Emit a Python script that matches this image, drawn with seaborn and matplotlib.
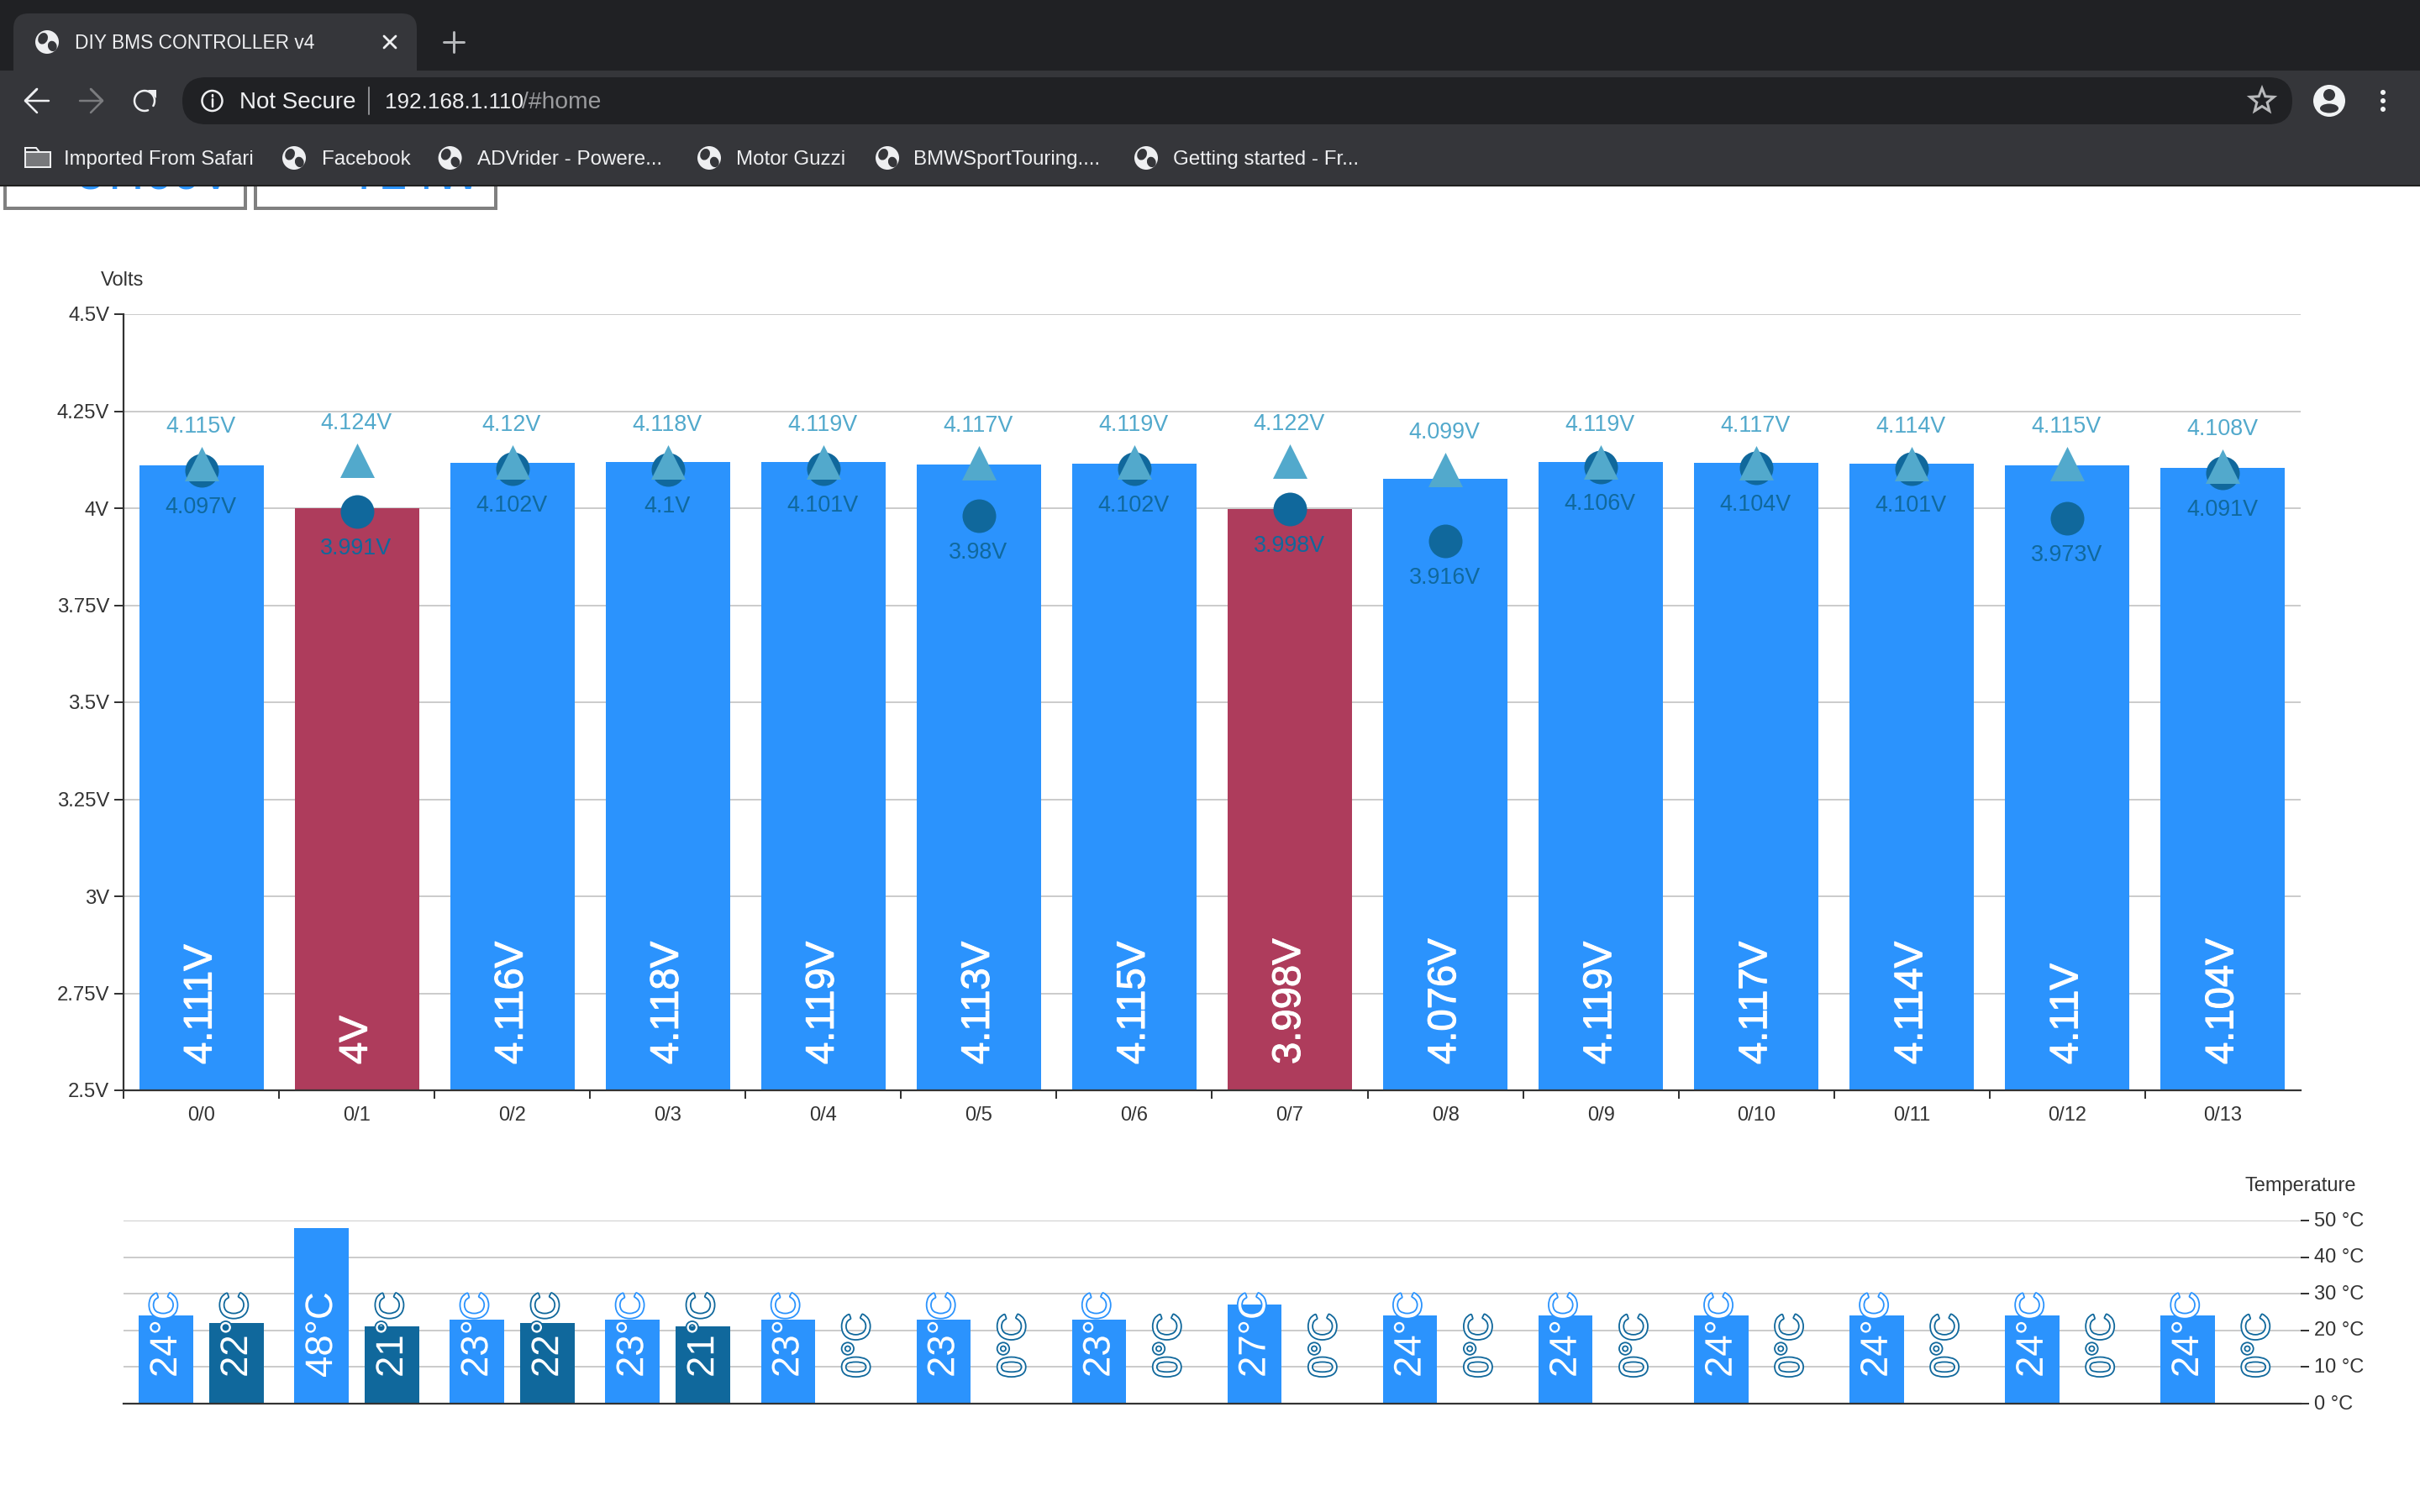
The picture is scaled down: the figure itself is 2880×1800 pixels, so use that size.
import numpy as np
import pandas as pd
import matplotlib
matplotlib.use("Agg")
import matplotlib.pyplot as plt
import matplotlib.patheffects as pe
from matplotlib.patches import Rectangle, FancyBboxPatch, Circle, Ellipse, Polygon
from matplotlib.transforms import ScaledTranslation
import seaborn as sns

# Valores
cells = ["0/0", "0/1", "0/2", "0/3", "0/4", "0/5", "0/6", "0/7", "0/8", "0/9", "0/10", "0/11", "0/12", "0/13"]
voltage = [4.111, 4, 4.116, 4.118, 4.119, 4.113, 4.115, 3.998, 4.076, 4.119, 4.117, 4.114, 4.11, 4.104]
v_max = [4.115, 4.124, 4.12, 4.118, 4.119, 4.117, 4.119, 4.122, 4.099, 4.119, 4.117, 4.114, 4.115, 4.108]
v_min = [4.097, 3.991, 4.102, 4.1, 4.101, 3.98, 4.102, 3.998, 3.916, 4.106, 4.104, 4.101, 3.973, 4.091]
balancing = [False, True, False, False, False, False, False, True, False, False, False, False, False, False]
temp_ext = [24, 48, 23, 23, 23, 23, 23, 27, 24, 24, 24, 24, 24, 24]
temp_int = [22, 21, 22, 21, 0, 0, 0, 0, 0, 0, 0, 0, 0, 0]
volt_ticks = [2.5, 2.75, 3, 3.25, 3.5, 3.75, 4, 4.25, 4.5]
temp_ticks = [0, 10, 20, 30, 40, 50]

BLUE = "#2b93fd"
RED = "#ae3c5c"
DARK = "#10689c"
LIGHT = "#52a9cc"
GRID = "#cccccc"
INK = "#333333"
W, H = 2880, 1800
PX = 72 / 200  # puntos por pixel

sns.set_theme(style="white")
plt.rcParams["font.family"] = ["Liberation Sans", "DejaVu Sans"]


def place(x0, x1, y_top, y_bottom):
    return [x0 / W, 1 - y_bottom / H, (x1 - x0) / W, (y_bottom - y_top) / H]


fig = plt.figure(figsize=(14.4, 9), dpi=200, facecolor="white")

# ---- Voltajes ----
df = pd.DataFrame({"cell": cells, "voltage": voltage, "v_max": v_max, "v_min": v_min, "balancing": balancing})
ax = fig.add_axes(place(147, 2738, 374, 1298))
sns.barplot(data=df, x="cell", y="voltage", hue="balancing", palette={False: BLUE, True: RED},
            dodge=False, width=0.8, linewidth=0, saturation=1, legend=False, ax=ax, zorder=2)
sns.scatterplot(data=df, x="cell", y="v_min", color=DARK, marker="o", s=(40 * PX) ** 2, linewidth=0, ax=ax, zorder=3)
sns.scatterplot(data=df, x="cell", y="v_max", color=LIGHT, marker="^", s=(41 * PX) ** 2, linewidth=0, ax=ax, zorder=4)
ax.set_xlim(-0.5, 13.5)
ax.set_ylim(2.5, 4.5)
ax.set_yticks(volt_ticks)
ax.set_yticklabels([f"{t:g}V" for t in volt_ticks])
ax.set_xticks(np.arange(14) - 0.5, minor=True)
ax.set_xlabel("")
ax.set_ylabel("")
ax.grid(axis="y", color=GRID, linewidth=2 * PX, zorder=1)
ax.set_axisbelow(True)
sns.despine(ax=ax, top=True, right=True)
for s in ["left", "bottom"]:
    ax.spines[s].set_color(INK)
    ax.spines[s].set_linewidth(2.2 * PX)
ax.tick_params(axis="y", length=11 * PX, width=2 * PX, color=INK, labelcolor=INK, labelsize=8.6, pad=6 * PX, left=True)
ax.tick_params(axis="x", which="major", length=0, labelcolor=INK, labelsize=8.5, pad=19 * PX)
ax.tick_params(axis="x", which="minor", length=10 * PX, width=2 * PX, color=INK, bottom=True)

for i, (v, hi, lo) in enumerate(zip(voltage, v_max, v_min)):
    ax.annotate(f"{v:g}V", (i, 2.5), xytext=(0, 31 * PX), textcoords="offset points", rotation=90,
                ha="center", va="bottom", color="white", fontsize=17, zorder=6,
                path_effects=[pe.Stroke(linewidth=0.4, foreground="white"), pe.Normal()])
    ax.annotate(f"{hi:g}V", (i, hi), xytext=(-1 * PX, 44 * PX), textcoords="offset points",
                ha="center", va="center", color=LIGHT, fontsize=9.7, zorder=6)
    ax.annotate(f"{lo:g}V", (i, lo), xytext=(-1 * PX, -44 * PX), textcoords="offset points",
                ha="center", va="center", color=DARK, fontsize=9.7, zorder=6)

fig.text(146 / W, 1 - 334 / H, "Volts", ha="center", va="center", color=INK, fontsize=8.5)

# ---- Temperaturas ----
temps = pd.DataFrame({
    "cell": cells * 2,
    "temp": temp_ext + temp_int,
    "sensor": ["ext"] * 14 + ["int"] * 14,
})
axt = fig.add_axes(place(147, 2738, 1453, 1671))
sns.barplot(data=temps, x="cell", y="temp", hue="sensor", palette={"ext": BLUE, "int": DARK},
            width=0.908, gap=0.232, linewidth=0, saturation=1, legend=False, ax=axt, zorder=2)
axt.set_xlim(-0.5, 13.5)
axt.set_ylim(0, 50)
axt.set_yticks(temp_ticks)
axt.set_yticklabels([f"{t} °C" for t in temp_ticks])
axt.yaxis.tick_right()
axt.set_xticks([])
axt.set_xlabel("")
axt.set_ylabel("")
axt.grid(axis="y", color=GRID, linewidth=2 * PX, zorder=1)
axt.set_axisbelow(True)
for s in ["left", "top", "right"]:
    axt.spines[s].set_visible(False)
axt.spines["bottom"].set_color(INK)
axt.spines["bottom"].set_linewidth(2.2 * PX)
axt.tick_params(axis="y", length=10 * PX, width=2 * PX, color=INK, labelcolor=INK, labelsize=8.5, pad=6 * PX, right=True)
axt.patch.set_alpha(0)
for lab in axt.get_yticklabels():
    lab.set_transform(lab.get_transform() + ScaledTranslation(0, 2 * PX / 72, fig.dpi_scale_trans))

for i, (a, b) in enumerate(zip(temp_ext, temp_int)):
    for dx, t, col in [(-42, a, BLUE), (42, b, DARK)]:
        axt.annotate(f"{t}°C", (i, 0), xytext=((dx + 0.5) * PX, 31 * PX), textcoords="offset points", rotation=90,
                     ha="center", va="bottom", color="white", fontsize=16.4, zorder=6, annotation_clip=False,
                     path_effects=[pe.Stroke(linewidth=1.3, foreground=col), pe.Normal()])

fig.text(2738 / W, 1 - 1412 / H, "Temperature", ha="center", va="center", color=INK, fontsize=8.5)

# ---- Ventana del navegador (coordenadas en pixeles) ----
ui = fig.add_axes([0, 0, 1, 1], zorder=10)
ui.set_xlim(0, W)
ui.set_ylim(H, 0)
ui.axis("off")
ui.patch.set_alpha(0)

TAB_BG = "#202124"
BAR_BG = "#35363a"
UI_TXT = "#eeeff1"

# cajas de arriba, tapadas por la barra (solo asoma el pie del texto)
for x0, x1, tx, txt in [(6, 292, 92, "57.66V"), (304, 590, 420, "724W")]:
    ui.add_patch(Rectangle((x0, 180), x1 - x0, 68, fc="white", ec="#808080", lw=4 * PX, zorder=1))
    ui.text(tx, 225, txt, ha="left", va="baseline", color=BLUE, fontsize=21, zorder=2)

ui.add_patch(Rectangle((0, 0), W, 84, fc=TAB_BG, lw=0, zorder=3))
ui.add_patch(Rectangle((0, 84), W, 136, fc=BAR_BG, lw=0, zorder=3))
ui.add_patch(Rectangle((0, 220), W, 2, fc="#1f1f1f", lw=0, zorder=3))
ui.add_patch(FancyBboxPatch((16, 16), 480, 90, boxstyle="round,pad=0,rounding_size=18", fc=BAR_BG, lw=0, zorder=3))
ui.add_patch(FancyBboxPatch((217, 92), 2511, 56, boxstyle="round,pad=0,rounding_size=28", fc=TAB_BG, lw=0, zorder=4))


def globe(cx, cy, r=14):
    ui.add_patch(Circle((cx, cy), r, fc=UI_TXT, lw=0, zorder=5))
    ui.add_patch(Ellipse((cx - r * 0.35, cy - r * 0.3), r * 0.8, r * 1.0, angle=25, fc=BAR_BG, lw=0, zorder=6))
    ui.add_patch(Ellipse((cx + r * 0.45, cy + r * 0.35), r * 0.75, r * 0.9, angle=-20, fc=BAR_BG, lw=0, zorder=6))


def label(x, y, txt, color=UI_TXT, size=8.7, **kw):
    return ui.text(x, y, txt, color=color, fontsize=size, va="center", ha="left", zorder=7, **kw)


globe(56, 50)
label(89, 52, "DIY BMS CONTROLLER v4", size=8.2)
ui.plot([457, 471], [43, 57], color=UI_TXT, lw=2.8 * PX, zorder=7)
ui.plot([457, 471], [57, 43], color=UI_TXT, lw=2.8 * PX, zorder=7)
ui.plot([540, 540], [38, 62], color="#b5b7ba", lw=3 * PX, zorder=7)
ui.plot([528, 552], [50, 50], color="#b5b7ba", lw=3 * PX, zorder=7)

# flechas y recarga
ui.plot([58, 30, 44, 30, 44], [120, 120, 106, 120, 134], color=UI_TXT, lw=2.5 * PX, zorder=7)
ui.plot([95, 122, 108, 122, 108], [120, 120, 106, 120, 134], color="#7b7c7f", lw=2.5 * PX, zorder=7)
th = np.radians(np.arange(-30, 300, 10))
ui.plot(172 + 12 * np.cos(th), 120 - 12 * np.sin(th), color=UI_TXT, lw=2.5 * PX, zorder=7)
ui.add_patch(Polygon([[176, 107], [186, 107], [186, 117]], fc=UI_TXT, lw=0, zorder=7))

# barra de direccion
ui.add_patch(Circle((252.5, 120), 12, fc="none", ec=UI_TXT, lw=2.5 * PX, zorder=7))
ui.plot([252.5, 252.5], [118, 127], color=UI_TXT, lw=2.5 * PX, zorder=7)
ui.plot([252.5, 252.5], [112.5, 114.5], color=UI_TXT, lw=2.5 * PX, zorder=7)
label(285, 122, "Not Secure", size=10)
ui.plot([439, 439], [104, 136], color="#8c8d90", lw=2 * PX, zorder=7)
label(458, 122, "192.168.1.110", size=9.4)
label(621, 122, "/#home", color="#9a9b9e", size=10.2)

# estrella, perfil y menu
ang = np.radians(90 + 36 * np.arange(10))
rad = np.where(np.arange(10) % 2 == 0, 15, 6.5)
ui.add_patch(Polygon(np.c_[2692 + rad * np.cos(ang), 120 - rad * np.sin(ang)], fc="none", ec="#b8b9bb", lw=3 * PX, zorder=7))
ui.add_patch(Circle((2772, 120), 19, fc="#f1f3f4", lw=0, zorder=6))
ui.add_patch(Circle((2772, 113), 7, fc=BAR_BG, lw=0, zorder=7))
ui.add_patch(Ellipse((2772, 129), 22, 11, fc=BAR_BG, lw=0, zorder=7))
for yy in [110, 120, 130]:
    ui.add_patch(Circle((2836, yy), 3, fc="#f1f3f4", lw=0, zorder=7))

# marcadores
ui.add_patch(Rectangle((30, 181), 30, 18, fc="#77787b", ec=UI_TXT, lw=2 * PX, zorder=6))
ui.add_patch(Polygon([[30, 181], [30, 176], [43, 176], [47, 181]], fc=BAR_BG, ec=UI_TXT, lw=2 * PX, zorder=6))
label(76, 190, "Imported From Safari", size=8.6)
for gx, tx, txt in [(350, 383, "Facebook"), (535.6, 568, "ADVrider - Powere..."), (844, 876, "Motor Guzzi"),
                    (1056, 1087, "BMWSportTouring...."), (1364, 1396, "Getting started - Fr...")]:
    globe(gx, 188)
    label(tx, 190, txt)

fig.savefig("out.png", dpi=200, facecolor="white")
plt.close(fig)
